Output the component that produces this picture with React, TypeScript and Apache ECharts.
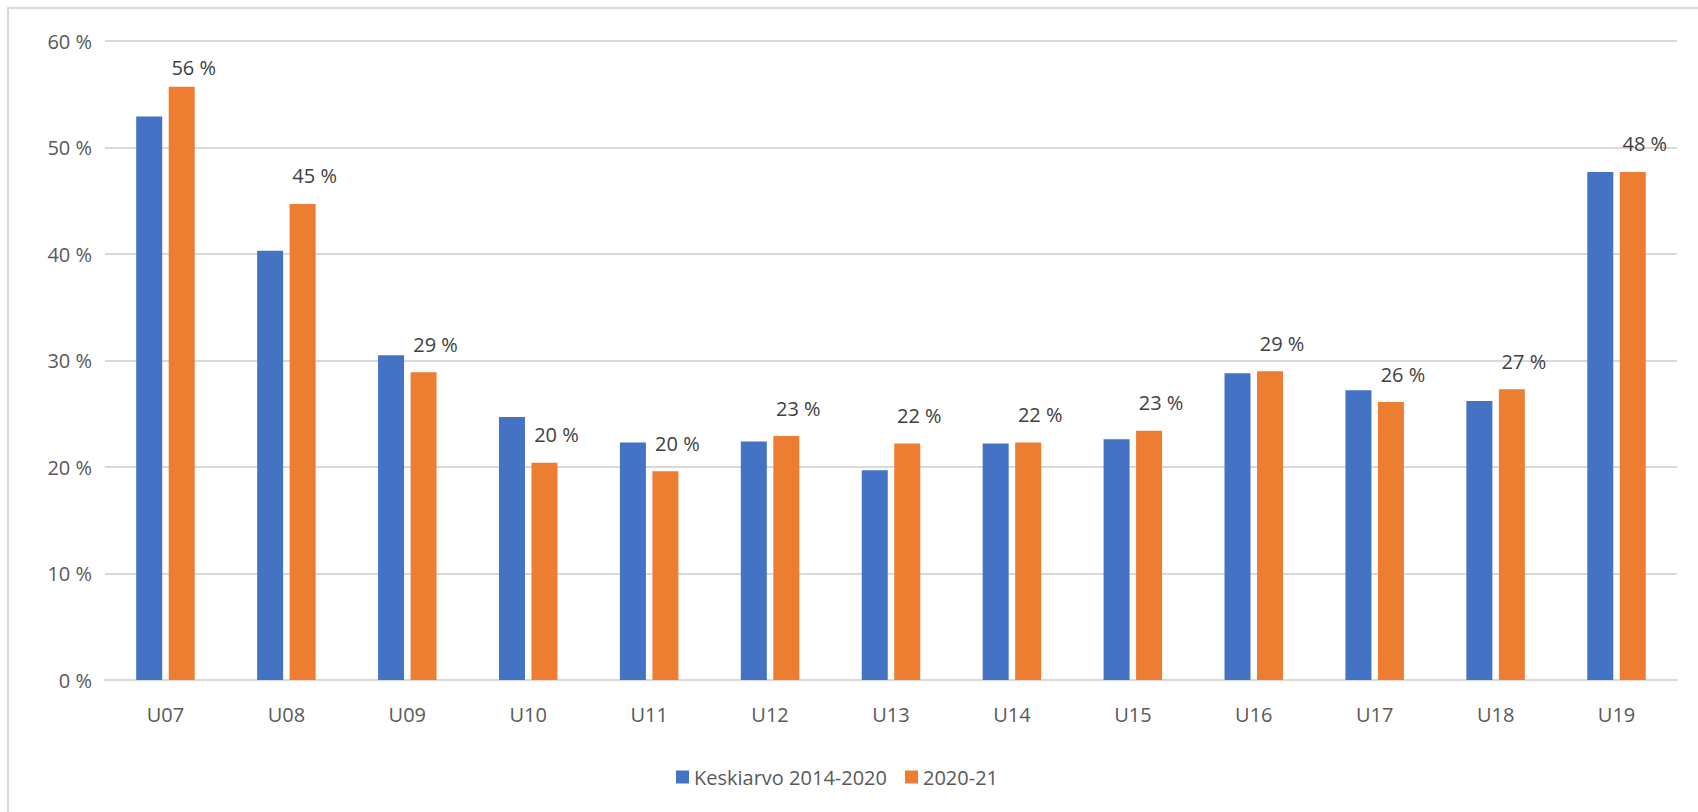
import React, { useEffect, useRef } from "react";
import * as echarts from "echarts";

const categories = ["U07", "U08", "U09", "U10", "U11", "U12", "U13", "U14", "U15", "U16", "U17", "U18", "U19"];
const averageValues = [52.9, 40.3, 30.5, 24.7, 22.3, 22.4, 19.7, 22.2, 22.6, 28.8, 27.2, 26.2, 47.7];
const seasonValues = [55.7, 44.7, 28.9, 20.4, 19.6, 22.9, 22.2, 22.3, 23.4, 29.0, 26.1, 27.3, 47.7];
const seriesNames = ["Keskiarvo 2014-2020", "2020-21"];

const FONT = "Open Sans";

export default function App() {
  const ref = useRef<HTMLDivElement>(null);
  useEffect(() => {
    if (!ref.current) return;
    const chart = echarts.init(ref.current, undefined, { renderer: "svg" });
    const seasonData = seasonValues.map((v, i) =>
      i === 0 ? { value: v, label: { distance: 9 } } : v
    );
    chart.setOption({
      animation: false,
      backgroundColor: "#ffffff",
      graphic: [
        {
          type: "rect",
          shape: { x: 8, y: 8, width: 1800, height: 900 },
          style: { fill: "none", stroke: "#d9d9d9", lineWidth: 2 },
          silent: true,
          z: -1,
        },
      ],
      grid: { left: 105, right: 21, top: 41, bottom: 132, containLabel: false },
      legend: {
        left: 671,
        top: 762,
        itemWidth: 13,
        itemHeight: 13,
        itemGap: 18,
        icon: "rect",
        textStyle: { fontFamily: FONT, fontSize: 20, color: "#595959" },
        data: seriesNames,
      },
      xAxis: {
        type: "category",
        data: categories,
        axisLine: { lineStyle: { color: "#d9d9d9", width: 2 } },
        axisTick: { show: false },
        axisLabel: { fontFamily: FONT, fontSize: 20, color: "#595959", margin: 24 },
      },
      yAxis: {
        type: "value",
        min: 0,
        max: 60,
        interval: 10,
        axisLine: { show: false },
        axisTick: { show: false },
        splitLine: { lineStyle: { color: "#d9d9d9", width: 2 } },
        axisLabel: {
          fontFamily: FONT,
          fontSize: 20,
          color: "#595959",
          margin: 13,
          formatter: (v: number) => `${v} %`,
        },
      },
      series: [
        {
          name: seriesNames[0],
          type: "bar",
          data: averageValues,
          barWidth: 26,
          barGap: "25%",
          itemStyle: { color: "#4472C4" },
        },
        {
          name: seriesNames[1],
          type: "bar",
          data: seasonData,
          barWidth: 26,
          itemStyle: { color: "#ED7D31" },
          label: {
            show: true,
            position: "top",
            distance: 18,
            offset: [12, 0],
            fontFamily: FONT,
            fontSize: 20,
            color: "#404040",
            formatter: (p: any) => `${Math.round(p.value)} %`,
          },
        },
      ],
    });
    return () => chart.dispose();
  }, []);
  return (
    <div
      ref={ref}
      style={{ position: "fixed", left: 0, top: 0, width: 1698, height: 812, background: "#fff" }}
    />
  );
}
